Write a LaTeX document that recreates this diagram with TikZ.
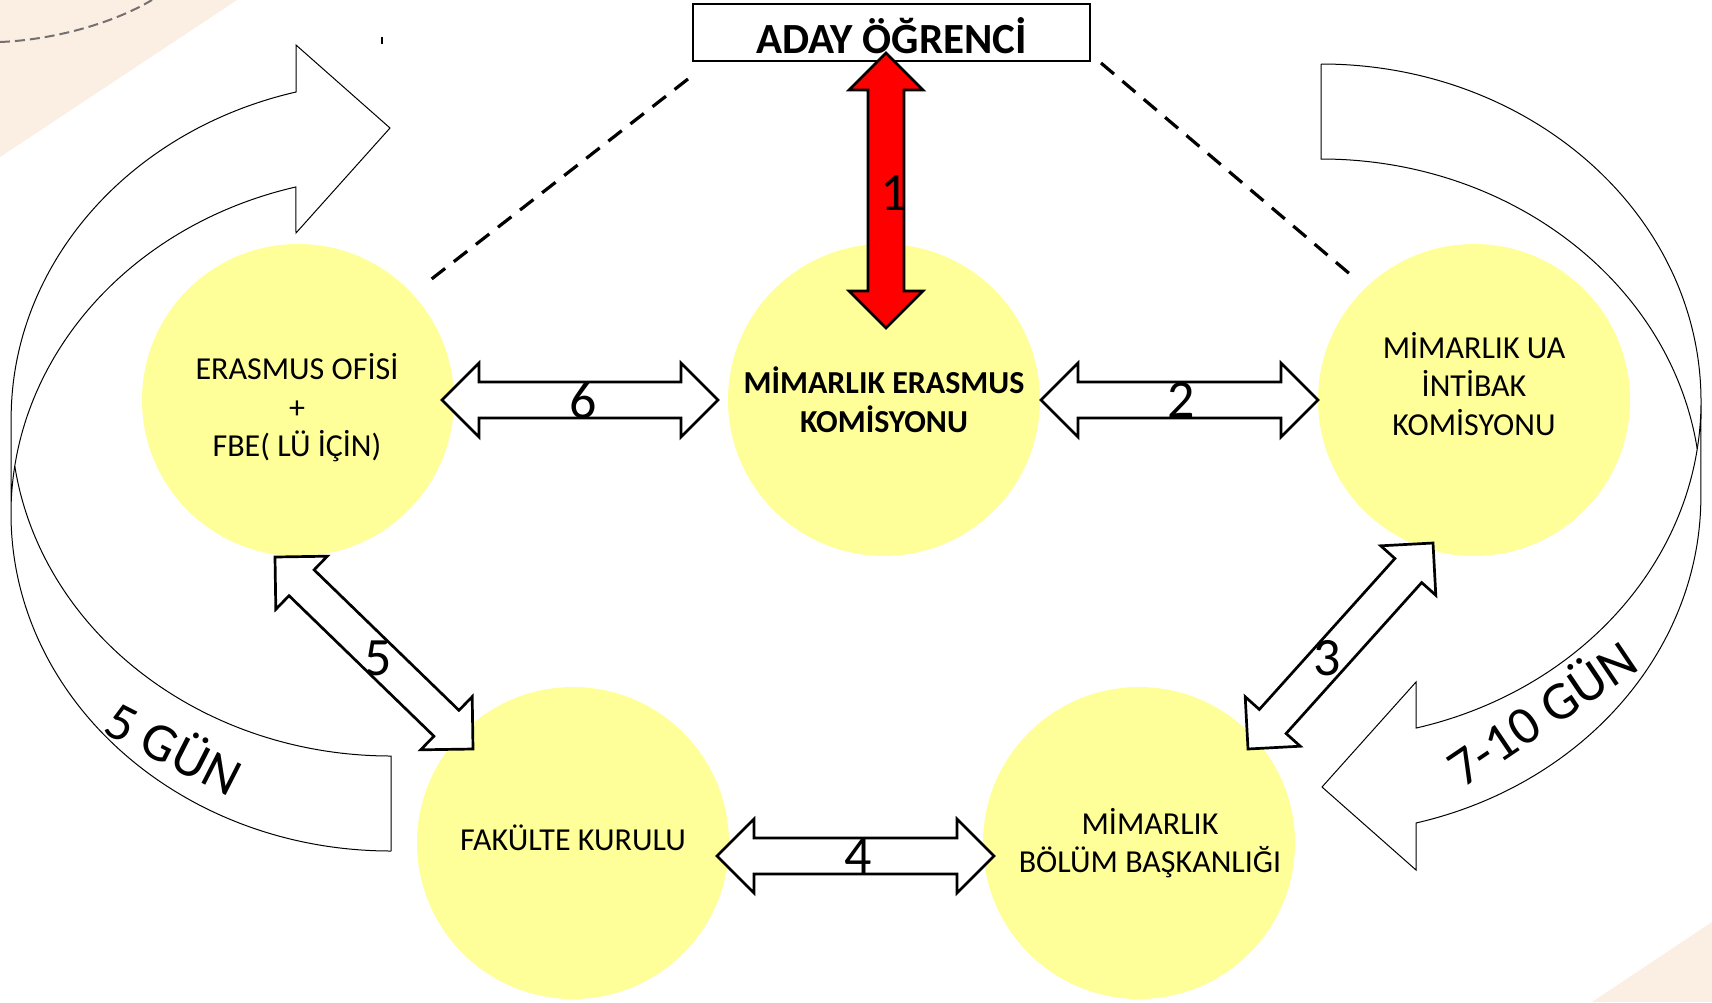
\documentclass[tikz,border=0pt]{standalone}
\usepackage{fontspec}
\setmainfont{Carlito}
\usetikzlibrary{calc}

\definecolor{stageyellow}{RGB}{255,255,153}
\definecolor{cornerpeach}{RGB}{251,238,227}
\definecolor{dashgray}{RGB}{117,112,112}

\newcommand{\twowayarrow}[3][white]{%
  \draw[line width=1.35pt, fill=#1] (#2)
    -- ($(#2)!18.5pt!(#3)!18.5pt!90:(#3)$)
    -- ($(#2)!18.5pt!(#3)!9pt!90:(#3)$)
    -- ($(#3)!18.5pt!(#2)!9pt!-90:(#2)$)
    -- ($(#3)!18.5pt!(#2)!18.5pt!-90:(#2)$)
    -- (#3)
    -- ($(#3)!18.5pt!(#2)!18.5pt!90:(#2)$)
    -- ($(#3)!18.5pt!(#2)!9pt!90:(#2)$)
    -- ($(#2)!18.5pt!(#3)!9pt!-90:(#3)$)
    -- ($(#2)!18.5pt!(#3)!18.5pt!-90:(#3)$)
    -- cycle;}

\newcommand{\bendarrow}{%
  \fill[white] (391,851) arc[start angle=90, end angle=180, x radius=380, y radius=337.4]
    -- (11,418.6) arc[start angle=180, end angle=255.5, x radius=380, y radius=337.4]
    -- (296,45) -- (390,128) -- (296,233) -- (296,187)
    arc[start angle=255.5, end angle=188.1, x radius=380, y radius=337.4]
    arc[start angle=171.9, end angle=90, x radius=380, y radius=337.4] -- cycle;
  \draw[line width=0.5pt] (391,851) arc[start angle=90, end angle=255.5, x radius=380, y radius=337.4]
    -- (296,233) -- (390,128) -- (296,45) -- (296,92)
    arc[start angle=255.5, end angle=180, x radius=380, y radius=337.4] -- (11,513.6);
  \draw[line width=0.5pt] (391,851) -- (391,756)
    arc[start angle=90, end angle=171.9, x radius=380, y radius=337.4];}

\begin{document}
\begin{tikzpicture}[x=0.5pt, y=-0.5pt,
  every node/.style={outer sep=0pt},
  stage/.style={circle, fill=stageyellow, minimum size=156pt, inner sep=0pt},
  stagetext/.style={align=center, inner sep=0pt, font=\fontsize{16}{19.3}\selectfont},
  steplabel/.style={inner sep=0pt, font=\fontsize{27}{27}\selectfont},
  daylabel/.style={inner sep=0pt, font=\fontsize{27}{27}\selectfont}]
\fill[white] (0,0) rectangle (1712,1002);
\useasboundingbox (0,0) rectangle (1712,1002);
\fill[cornerpeach] (0,0) -- (237,0) -- (0,157) -- cycle;
\fill[cornerpeach] (1592,1002) -- (1712,922) -- (1712,1002) -- cycle;
\draw[dashgray, line width=1pt, dash pattern=on 5pt off 2.5pt] (0,42) .. controls (50,40) and (110,25) .. (152,0);
\draw[line width=1pt] (381.5,36.5) -- (381.5,43.5);

\bendarrow
\begin{scope}[rotate around={180:(856,457.5)}]
\bendarrow
\end{scope}
\node[daylabel, rotate=-27] (fivedays) at (175,746) {5 GÜN};
\node[daylabel, rotate=34] (tendays) at (1540,711) {7-10 GÜN};

\node[stage] (erasmus) at (298,400) {};
\node[stage] (komisyon) at (884,400) {};
\node[stage] (intibak) at (1474,400) {};
\node[stage] (fakulte) at (573,843) {};
\node[stage] (bolum) at (1139,843) {};
\node[stagetext] (erasmustext) at (297,408) {ERASMUS OFİSİ\\+\\FBE( LÜ İÇİN)};
\node[stagetext, font=\bfseries\fontsize{16}{19.3}\selectfont] (komisyontext) at (884,400) {MİMARLIK ERASMUS\\KOMİSYONU};
\node[stagetext] (intibaktext) at (1474,384) {MİMARLIK UA\\İNTİBAK\\KOMİSYONU};
\node[stagetext] (fakultetext) at (573,838) {FAKÜLTE KURULU};
\node[stagetext] (bolumtext) at (1150,843) {MİMARLIK\\BÖLÜM BAŞKANLIĞI};

\node[draw, line width=1.15pt, fill=white, minimum width=198.5pt, minimum height=28.5pt,
  text height=20.5pt, text depth=0pt, font=\bfseries\fontsize{21.5}{21.5}\selectfont] (aday) at (891.5,32.5) {ADAY ÖĞRENCİ};
\draw[line width=1.6pt, dash pattern=on 8.5pt off 5.5pt] (688,79) -- (429,281);
\draw[line width=1.6pt, dash pattern=on 8.5pt off 5.5pt] (1101,63) -- (1351,275);

\coordinate (t1a) at (886,53);
\coordinate (t1b) at (886,328);
\coordinate (t2a) at (1041,400);
\coordinate (t2b) at (1318,400);
\coordinate (t3a) at (1433,543);
\coordinate (t3b) at (1248,749);
\coordinate (t4a) at (717,856);
\coordinate (t4b) at (994,856);
\coordinate (t5a) at (275,557);
\coordinate (t5b) at (473,749);
\coordinate (t6a) at (442,400);
\coordinate (t6b) at (718,400);
\twowayarrow[red]{t1a}{t1b}
\twowayarrow{t2a}{t2b}
\twowayarrow{t3a}{t3b}
\twowayarrow{t4a}{t4b}
\twowayarrow{t5a}{t5b}
\twowayarrow{t6a}{t6b}
\node[steplabel] (n1) at (894,193) {1};
\node[steplabel] (n2) at (1181,400) {2};
\node[steplabel] (n3) at (1327,658) {3};
\node[steplabel] (n4) at (858,856) {4};
\node[steplabel] (n5) at (378,658) {5};
\node[steplabel] (n6) at (583,400) {6};
\end{tikzpicture}
\end{document}
